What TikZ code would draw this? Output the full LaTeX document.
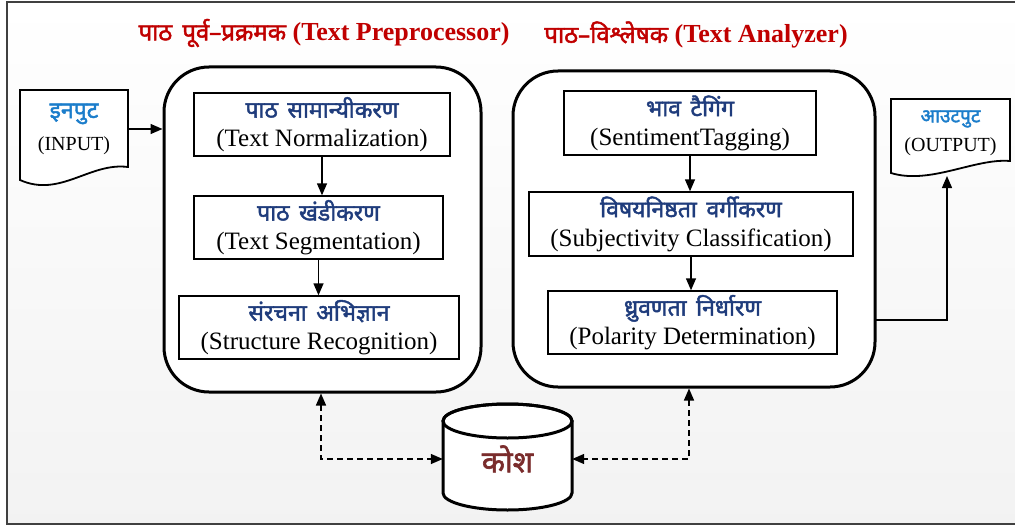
\documentclass[tikz,border=0pt]{standalone}
\usepackage{fontspec}
\setmainfont{Liberation Serif}
\newfontfamily\devfont[Script=Devanagari,FakeBold=2,WordSpace=1.6]{Noto Sans}
\usetikzlibrary{arrows.meta,positioning}
\definecolor{titlered}{HTML}{C00000}
\definecolor{devblue}{HTML}{1F3C7C}
\definecolor{ioblue}{HTML}{1B7DCB}
\definecolor{koshred}{HTML}{7A2C2C}
\newcommand{\hin}[1]{{\devfont\fontsize{23}{27}\selectfont\color{devblue}#1}}

\begin{document}
\begin{tikzpicture}[x=1pt, y=-1pt,
	stage/.style = {draw, line width=1.4pt, fill=white, align=center, inner sep=0pt,
		font=\fontsize{25}{29}\selectfont},
	block/.style = {draw, line width=3pt, rounded corners=45pt, fill=white, inner sep=0pt},
	flow/.style = {line width=1.4pt, -{Triangle[length=12pt,width=10pt]}},
	link/.style = {line width=1.4pt, dash pattern=on 6pt off 4pt,
		{Triangle[length=12pt,width=10pt]}-{Triangle[length=12pt,width=10pt]}},
	doc/.style = {draw, line width=1.8pt, fill=white}]
	\useasboundingbox (0,0) rectangle (1015,527);
	\draw[line width=1.5pt, draw=black!75, top color=white, bottom color=black!5] (7,2) rectangle (1020,524);
	% titles
	\node[font=\bfseries\fontsize{26}{30}\selectfont, text=titlered] (titlepre) at (324,33)
		{{\devfont\fontsize{24}{28}\selectfont पाठ पूर्व–प्रक्रमक} (Text Preprocessor)};
	\node[font=\bfseries\fontsize{26}{30}\selectfont, text=titlered] (titleana) at (696,35)
		{{\devfont\fontsize{24}{28}\selectfont पाठ–विश्लेषक} (Text Analyzer)};
	% processing blocks
	\node[block, minimum width=317pt, minimum height=325pt] (prep) at (322.5,229.5) {};
	\node[block, minimum width=362pt, minimum height=316pt] (anal) at (694,229) {};
	\node[stage, minimum width=256pt, minimum height=63pt] (norm) at (322,124.5)
		{\hin{पाठ सामान्यीकरण}\\(Text Normalization)};
	\node[stage, minimum width=249pt, minimum height=63pt] (segm) at (318.5,227.5)
		{\hin{पाठ खंडीकरण}\\(Text Segmentation)};
	\node[stage, minimum width=280pt, minimum height=63pt] (strc) at (319,327.5)
		{\hin{संरचना अभिज्ञान}\\(Structure Recognition)};
	\node[stage, minimum width=252pt, minimum height=64pt] (sent) at (690,123)
		{\hin{भाव टैगिंग}\\(SentimentTagging)};
	\node[stage, minimum width=324pt, minimum height=64pt] (subj) at (691,224)
		{\hin{विषयनिष्ठता वर्गीकरण}\\(Subjectivity Classification)};
	\node[stage, minimum width=289pt, minimum height=63pt] (polr) at (692.5,322.5)
		{\hin{ध्रुवणता निर्धारण}\\(Polarity Determination)};
	\draw[flow] (norm) -- (norm.south |- segm.north);
	\draw[flow] (segm) -- (segm.south |- strc.north);
	\draw[flow] (sent) -- (sent.south |- subj.north);
	\draw[flow] (subj) -- (subj.south |- polr.north);
	% input and output documents
	\draw[doc] (20,90) -- (128,90) -- (128,167) .. controls (90,162) and (60,198) .. (20,180) -- cycle;
	\node[align=center, font=\fontsize{20}{32}\selectfont, minimum width=108pt, minimum height=78pt] (inp) at (74,129)
		{{\devfont\fontsize{23}{26}\selectfont\color{ioblue}इनपुट}\\(INPUT)};
	\draw[doc] (891,99) -- (1010,99) -- (1010,161) .. controls (975,158) and (930,185) .. (891,173) -- cycle;
	\node[align=center, font=\fontsize{20}{29}\selectfont, minimum width=119pt, minimum height=62pt] (outp) at (950.5,133)
		{{\devfont\fontsize{19}{22}\selectfont\color{ioblue}आउटपुट}\\(OUTPUT)};
	\draw[flow] (inp.east) -- (inp.east -| prep.west);
	\coordinate (tap) at (875,320);
	\coordinate (outtip) at (947,176);
	\draw[flow] (tap) -| (outtip);
	% lexicon
	\draw[line width=3pt, fill=white] (443,421) -- (443,493)
		arc[start angle=180, end angle=360, x radius=64.5pt, y radius=17pt] -- (572,421)
		arc[start angle=0, end angle=180, x radius=64.5pt, y radius=17pt] -- cycle;
	\draw[line width=3pt] (507.5,421) ellipse [x radius=64.5pt, y radius=17pt];
	\node[minimum width=129pt, minimum height=60pt, inner sep=0pt, text=koshred,
		font=\devfont\fontsize{30}{34}\selectfont] (kosh) at (507.5,459) {कोश};
	\draw[link] ([xshift=-1.5pt]prep.south) |- (kosh.west);
	\draw[link] ([xshift=-5pt]anal.south) |- (kosh.east);
\end{tikzpicture}
\end{document}
